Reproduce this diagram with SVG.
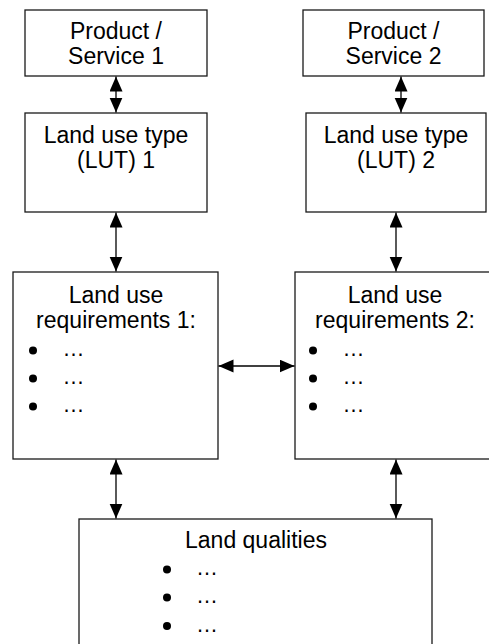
<svg xmlns="http://www.w3.org/2000/svg" width="489" height="644" viewBox="0 0 489 644">
<style>
.box{fill:#fff;stroke:#1a1a1a;stroke-width:1.3}
.t{font-family:"Liberation Sans",Arial,sans-serif;font-size:23px;fill:#000;text-anchor:middle}
.l{font-family:"Liberation Sans",Arial,sans-serif;font-size:22px;fill:#000}
.dot{fill:#000}
.c{stroke:#000;stroke-width:1.3;fill:none;marker-start:url(#ah);marker-end:url(#ah)}
</style>
<defs>
<marker id="ah" markerUnits="userSpaceOnUse" markerWidth="16" markerHeight="14" refX="15" refY="6.5" orient="auto-start-reverse">
<path d="M0,0 L15,6.5 L0,13 Z" fill="#000"/>
</marker>
</defs>
<rect width="489" height="644" fill="#fff"/>
<g id="p1"><rect class="box" x="25" y="10" width="182" height="66"/>
<text class="t" x="116" y="39">Product /</text><text class="t" x="116" y="64">Service 1</text></g>
<g id="p2"><rect class="box" x="303" y="10" width="181" height="66"/>
<text class="t" x="393.5" y="39">Product /</text><text class="t" x="393.5" y="64">Service 2</text></g>
<g id="lut1"><rect class="box" x="25" y="113" width="182" height="99"/>
<text class="t" x="116" y="143">Land use type</text><text class="t" x="116" y="168">(LUT) 1</text></g>
<g id="lut2"><rect class="box" x="306" y="113" width="180" height="99"/>
<text class="t" x="396" y="143">Land use type</text><text class="t" x="396" y="168">(LUT) 2</text></g>
<g id="req1"><rect class="box" x="13" y="272" width="205" height="187"/>
<text class="t" x="116" y="303">Land use</text><text class="t" x="116" y="328">requirements 1:</text>
<circle class="dot" cx="33" cy="350.5" r="4"/><text class="l" x="62.5" y="356">…</text>
<circle class="dot" cx="33" cy="378.5" r="4"/><text class="l" x="62.5" y="384">…</text>
<circle class="dot" cx="33" cy="406.5" r="4"/><text class="l" x="62.5" y="412">…</text></g>
<g id="req2"><rect class="box" x="295" y="272" width="200" height="187"/>
<text class="t" x="395" y="303">Land use</text><text class="t" x="395" y="328">requirements 2:</text>
<circle class="dot" cx="313" cy="350.5" r="4"/><text class="l" x="342.5" y="356">…</text>
<circle class="dot" cx="313" cy="378.5" r="4"/><text class="l" x="342.5" y="384">…</text>
<circle class="dot" cx="313" cy="406.5" r="4"/><text class="l" x="342.5" y="412">…</text></g>
<g id="lq"><rect class="box" x="79" y="519" width="353" height="140"/>
<text class="t" x="256" y="548">Land qualities</text>
<circle class="dot" cx="167" cy="569.5" r="4"/><text class="l" x="196" y="575">…</text>
<circle class="dot" cx="167" cy="597.5" r="4"/><text class="l" x="196" y="603">…</text>
<circle class="dot" cx="167" cy="626" r="4"/><text class="l" x="196" y="632">…</text></g>
<g id="connectors">
<line class="c" x1="116" y1="76.5" x2="116" y2="112.5"/>
<line class="c" x1="401" y1="76.5" x2="401" y2="112.5"/>
<line class="c" x1="116" y1="212.5" x2="116" y2="271.5"/>
<line class="c" x1="396" y1="212.5" x2="396" y2="271.5"/>
<line class="c" x1="218.5" y1="366" x2="294.5" y2="366"/>
<line class="c" x1="116" y1="459.5" x2="116" y2="518.5"/>
<line class="c" x1="396" y1="459.5" x2="396" y2="518.5"/>
</g>
</svg>
